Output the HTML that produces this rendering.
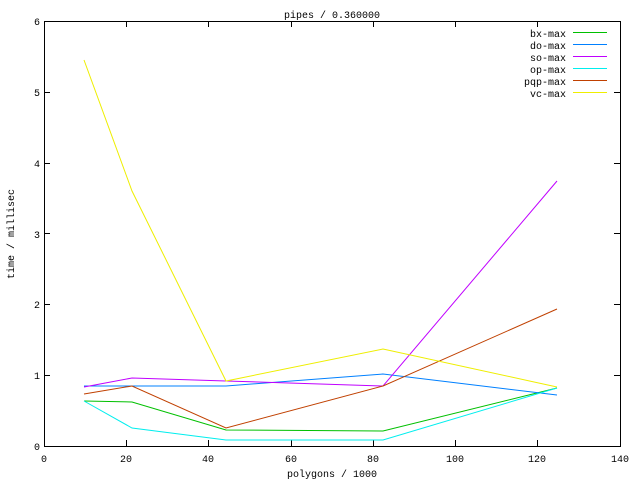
<!DOCTYPE html>
<html><head><style>body{margin:0;background:#fff}svg{display:block}text{font-family:"Liberation Mono",monospace;font-size:10px;fill:#000}</style></head><body>
<svg width="640" height="480" xmlns="http://www.w3.org/2000/svg">
<g stroke="#000" stroke-width="1" fill="none">
<rect x="44.5" y="21.5" width="576" height="425"/>
<path d="M44 375.5h6M44 304.5h6M44 233.5h6M44 163.5h6M44 92.5h6M620 375.5h-6M620 304.5h-6M620 233.5h-6M620 163.5h-6M620 92.5h-6M126.5 446v-6M208.5 446v-6M291.5 446v-6M373.5 446v-6M455.5 446v-6M537.5 446v-6M126.5 21v6M208.5 21v6M291.5 21v6M373.5 21v6M455.5 21v6M537.5 21v6"/>
</g>
<g text-anchor="end">
<text x="40" y="450">0</text><text x="40" y="379">1</text><text x="40" y="308">2</text><text x="40" y="238">3</text><text x="40" y="167">4</text><text x="40" y="96">5</text><text x="40" y="25">6</text>
</g>
<g text-anchor="middle">
<text x="44" y="462">0</text><text x="126" y="462">20</text><text x="208" y="462">40</text><text x="291" y="462">60</text><text x="373" y="462">80</text><text x="455" y="462">100</text><text x="537" y="462">120</text><text x="620" y="462">140</text>
<text x="332" y="477">polygons / 1000</text>
<text x="332" y="18">pipes / 0.360000</text>
<text transform="translate(14,234) rotate(-90)">time / millisec</text>
</g>
<g text-anchor="end">
<text x="566" y="37">bx-max</text><text x="566" y="49">do-max</text><text x="566" y="61">so-max</text><text x="566" y="73">op-max</text><text x="566" y="85">pqp-max</text><text x="566" y="97">vc-max</text>
</g>
<g fill="none" stroke-width="1">
<path stroke="#00c000" d="M573 32.5h34M84 401L132 402L226 430L383 431L557 388"/>
<path stroke="#0080ff" d="M573 44.5h34M84 386L132 386L226 386L383 374L557 395"/>
<path stroke="#c000ff" d="M573 56.5h34M84 387L132 378L226 381L383 386L557 181"/>
<path stroke="#00eeee" d="M573 68.5h34M84 401L132 428L226 440L383 440L557 388"/>
<path stroke="#c04000" d="M573 80.5h34M84 394L132 386L226 428L383 386L557 309"/>
<path stroke="#eeee00" d="M573 92.5h34M84 60L132 191L226 381L383 349L557 387"/>
</g>
</svg>
</body></html>
